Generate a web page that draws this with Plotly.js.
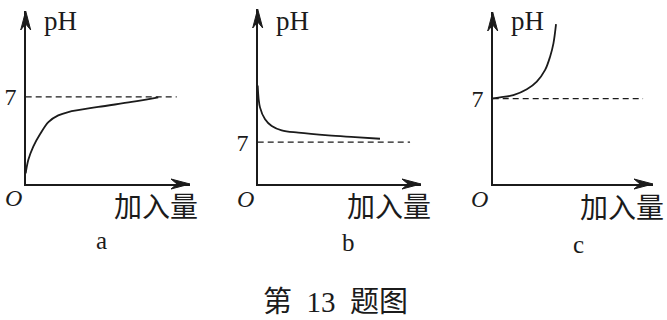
<!DOCTYPE html>
<html>
<head>
<meta charset="utf-8">
<script src="https://cdn.plot.ly/plotly-3.0.1.min.js"></script>
<style>html,body{margin:0;padding:0;background:#fff;}#chart{width:667px;height:320px;}</style>
</head>
<body>
<div id="chart"></div>
<script>
// ---- data (schematic pH curves) ----
const panelLabels = ['a', 'b', 'c'];
const yTitle = 'pH';
const xTitle = '加入量';
const originLabel = 'O';
const caption = '第 13 题图';
const refPH = 7;
const refTickText = ['7'];

const aX = [0, 0.16, 0.46, 0.87, 1.38, 1.98, 2.59, 4.42, 6.45, 8.07];
const aY = [0.86, 1.94, 3.01, 3.99, 4.98, 5.51, 5.78, 6.19, 6.59, 6.96];

const bX = [0, 0.14, 0.45, 0.86, 1.47, 2.49, 4.32, 5.96, 7.49];
const bY = [16.5, 12.83, 10.85, 9.71, 8.98, 8.59, 8.14, 7.85, 7.58];

const cX = [0, 0.46, 1.29, 2.13, 2.75, 3.27, 3.58, 3.79, 3.95];
const cY = [7.02, 7.10, 7.28, 7.76, 8.39, 9.35, 10.44, 11.53, 13.10];

const refEndX = [9.19, 9.33, 9.38];
const xMax = [10, 10, 10];
const yMax = [13.9, 29.3, 14.1];

// ---- layout helpers ----
const W = 667, H = 320;
const serif = 'Liberation Serif, DejaVu Serif, serif';
const cjk = 'Liberation Serif, Noto Sans CJK SC, sans-serif';
const ink = '#1b1b1b';

const xDom = [[25.7, 190], [257.7, 421], [492.7, 653]];
const yDom = [[184, 11], [184, 9], [184, 12]];

const curves = [[aX, aY], [bX, bY], [cX, cY]];
const traces = [];
const shapes = [];
const layout = {
  width: W, height: H,
  margin: {l: 0, r: 0, t: 0, b: 0},
  paper_bgcolor: '#fff', plot_bgcolor: 'rgba(0,0,0,0)',
  showlegend: false,
  font: {family: serif, color: ink},
  annotations: []
};

for (let i = 0; i < 3; i++) {
  const sfx = i === 0 ? '' : String(i + 1);
  const xa = 'x' + sfx, ya = 'y' + sfx;
  layout['xaxis' + sfx] = {
    domain: [xDom[i][0] / W, xDom[i][1] / W],
    range: [0, xMax[i]], anchor: ya,
    showgrid: false, zeroline: false, showticklabels: false, ticks: '',
    showline: true, linecolor: ink, linewidth: 1.5, fixedrange: true
  };
  layout['yaxis' + sfx] = {
    domain: [1 - yDom[i][0] / H, 1 - yDom[i][1] / H],
    range: [0, yMax[i]], anchor: xa,
    showgrid: false, zeroline: false, ticks: '',
    tickvals: [refPH], ticktext: refTickText,
    tickfont: {family: serif, size: 24, color: ink},
    ticklabelstandoff: 3,
    showline: true, linecolor: ink, linewidth: 1.5, fixedrange: true
  };
  // dashed pH 7 reference
  traces.push({
    x: [0, refEndX[i]], y: [refPH, refPH], xaxis: xa, yaxis: ya,
    mode: 'lines', line: {color: ink, width: 1.3, dash: '6px,4px'}, hoverinfo: 'skip'
  });
  // curve
  traces.push({
    x: curves[i][0], y: curves[i][1], xaxis: xa, yaxis: ya,
    mode: 'lines', line: {color: ink, width: 1.8, shape: 'spline', smoothing: 1}, hoverinfo: 'skip'
  });
  // arrow heads at the axis ends (paper anchored, pixel-sized so they are not clipped)
  shapes.push({
    type: 'path', xref: 'paper', yref: 'paper', xsizemode: 'pixel', ysizemode: 'pixel',
    xanchor: xDom[i][1] / W, yanchor: 1 - yDom[i][0] / H,
    path: 'M0,0 L-19,5 L-13,0 L-19,-5 Z',
    fillcolor: ink, line: {color: ink, width: 1}
  });
  shapes.push({
    type: 'path', xref: 'paper', yref: 'paper', xsizemode: 'pixel', ysizemode: 'pixel',
    xanchor: xDom[i][0] / W, yanchor: 1 - yDom[i][1] / H,
    path: 'M0,0 L-5,-19 L0,-13 L5,-19 Z',
    fillcolor: ink, line: {color: ink, width: 1}
  });
}
layout.shapes = shapes;

function ann(text, px, py, size, family, extra) {
  layout.annotations.push(Object.assign({
    text: text, xref: 'paper', yref: 'paper', x: px / W, y: 1 - py / H,
    xanchor: 'center', yanchor: 'middle', showarrow: false,
    font: {family: family, size: size, color: ink}
  }, extra || {}));
}

const pHpos = [[60.5, 21], [292.5, 21], [527.5, 21]];
const Opos = [[13.5, 198], [245.5, 199], [479.5, 199]];
const xtPos = [[155.5, 207], [388.5, 207], [621.7, 208]];
const lblPos = [[101.5, 240], [348.5, 242], [578.5, 244]];
for (let i = 0; i < 3; i++) {
  ann(yTitle, pHpos[i][0], pHpos[i][1], 27, serif);
  ann('<i>' + originLabel + '</i>', Opos[i][0], Opos[i][1], 24, serif);
  ann(xTitle, xtPos[i][0], xtPos[i][1], 28, cjk);
  ann(panelLabels[i], lblPos[i][0], lblPos[i][1], 25, serif);
}
ann(caption.replace(/ /g, '\u2002'), 335, 302, 29, cjk);

Plotly.newPlot('chart', traces, layout, {staticPlot: true, displayModeBar: false});
</script>
</body>
</html>
